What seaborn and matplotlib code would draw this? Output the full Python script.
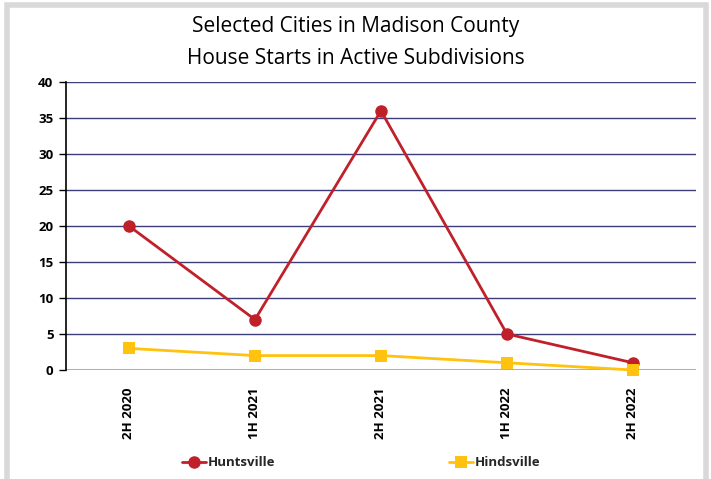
import pandas as pd
import matplotlib
matplotlib.use('Agg')
import matplotlib.pyplot as plt
import seaborn as sns
from matplotlib.patches import Rectangle

periods = ['2H 2020', '1H 2021', '2H 2021', '1H 2022', '2H 2022']
huntsville = [20, 7, 36, 5, 1]
hindsville = [3, 2, 2, 1, 0]
y_ticks = [0, 5, 10, 15, 20, 25, 30, 35, 40]

df = pd.DataFrame({
    'period': periods * 2,
    'starts': huntsville + hindsville,
    'city': ['Huntsville'] * 5 + ['Hindsville'] * 5,
})

sns.set_style('white')
plt.rcParams['font.family'] = ['Open Sans', 'DejaVu Sans']

fig = plt.figure(figsize=(7.11, 4.79), dpi=100)
fig.patches.append(Rectangle((0.01, -0.05), 0.983, 1.04, transform=fig.transFigure,
                             facecolor='white', edgecolor='#d9d9d9', linewidth=4, zorder=-10))
ax = fig.add_axes([0.0928, 0.2276, 0.886, 0.6012])
ax.patch.set_alpha(0)

sns.lineplot(data=df, x='period', y='starts', hue='city', style='city',
             palette={'Huntsville': '#c0202a', 'Hindsville': '#ffc20e'},
             markers={'Huntsville': 'o', 'Hindsville': 's'}, dashes=False,
             markersize=9, markeredgewidth=0, linewidth=2, ax=ax, sort=False, clip_on=False)

ax.set_xlim(-0.5, 4.5)
ax.set_ylim(0, 40)
ax.set_yticks(y_ticks)
for t in y_ticks[1:]:
    ax.axhline(t, color='#3d3d7a', linewidth=1, zorder=0)
ax.axhline(0, color='#a0a0a0', linewidth=1.2, zorder=0)

ax.set_xlabel('')
ax.set_ylabel('')
for s in ['top', 'right', 'bottom']:
    ax.spines[s].set_visible(False)
ax.spines['left'].set_color('black')
ax.spines['left'].set_linewidth(1.2)
ax.tick_params(axis='y', left=True, length=5, width=1, color='black', labelsize=9.5, pad=4,
               labelcolor='black')
ax.tick_params(axis='x', bottom=False, labelsize=9.5, pad=9, labelcolor='black')
for lab in ax.get_yticklabels():
    lab.set_fontweight('bold')
for lab in ax.get_xticklabels():
    lab.set_fontweight('bold')
    lab.set_rotation(90)

fig.text(0.5, 0.945, 'Selected Cities in Madison County', ha='center', va='center',
         fontsize=15, color='black')
fig.text(0.5, 0.878, 'House Starts in Active Subdivisions', ha='center', va='center',
         fontsize=15, color='black')

handles, labels = ax.get_legend_handles_labels()
ax.legend(handles, labels, loc='center', bbox_to_anchor=(0.508, 0.034), bbox_transform=fig.transFigure,
          ncol=2, frameon=False, columnspacing=13.2, handlelength=1.8, handletextpad=0.1,
          prop={'weight': 'bold', 'size': 9.5})

plt.savefig('out.png', dpi=100)
plt.close()
